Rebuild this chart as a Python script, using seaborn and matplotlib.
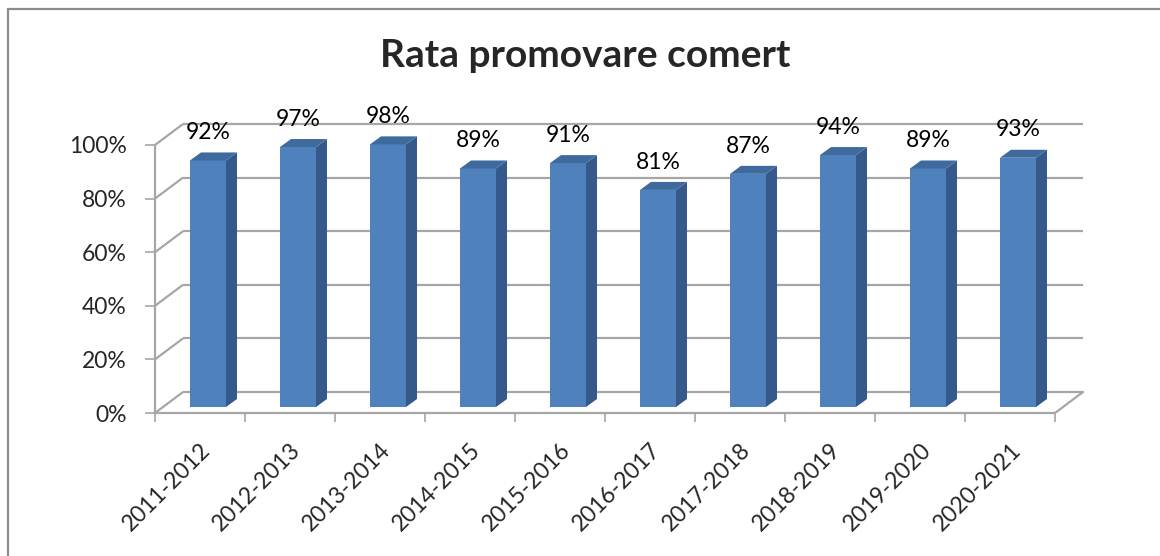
import matplotlib
matplotlib.use("Agg")
import matplotlib.pyplot as plt
import seaborn as sns
import pandas as pd
from matplotlib.patches import Polygon
from matplotlib.lines import Line2D

# ---- data ----
years = ["2011-2012", "2012-2013", "2013-2014", "2014-2015", "2015-2016",
         "2016-2017", "2017-2018", "2018-2019", "2019-2020", "2020-2021"]
rates = [92, 97, 98, 89, 91, 81, 87, 94, 89, 93]
yticks = [0, 20, 40, 60, 80, 100]
ytick_labels = ["0%", "20%", "40%", "60%", "80%", "100%"]
title = "Rata promovare comert"

W, H = 1160, 556
PX = 2.68          # pixels per percentage unit
CAT = 90.0         # pixels per category

sns.set_style("white")
plt.rcParams["font.family"] = ["Lato", "DejaVu Sans"]

fig = plt.figure(figsize=(W / 100, H / 100), dpi=100)
ax = fig.add_axes([155 / W, (H - 413) / H, 930 / W, 313 / H])
n = len(years)

DX, DY = 28 / CAT, 21 / PX           # wall depth
BX, BY = 8 / CAT, 6 / PX             # bar front offset into depth
SX, SY = 11 / CAT, 8 / PX            # bar depth
grid_c = "#a6a6a6"
FS = 16.5

df = pd.DataFrame({"year": years, "rate": rates})
sns.barplot(data=df, x="year", y="rate", color="#4f81bd", saturation=1,
            width=0.4, ax=ax, zorder=3)
ax.set_xlim(-0.5, -0.5 + 930 / CAT)
ax.set_ylim(0, 313 / PX)

front_c, side_c, top_c = "#4f81bd", "#34598a", "#3f6a9e"
for p, v in zip(ax.patches, rates):
    p.set_x(p.get_x() + BX)
    p.set_y(BY)
    p.set_height(v)
    p.set_edgecolor("none")
    x1 = p.get_x()
    x2 = x1 + p.get_width()
    b, t = BY, BY + v
    ax.add_patch(Polygon([(x2, b), (x2, t), (x2 + SX, t + SY), (x2 + SX, b + SY)],
                         closed=True, facecolor=side_c, edgecolor="none", zorder=2.9))
    ax.add_patch(Polygon([(x1, t), (x2, t), (x2 + SX, t + SY), (x1 + SX, t + SY)],
                         closed=True, facecolor=top_c, edgecolor="none", zorder=3.1))
    ax.text(x1 + p.get_width() / 2, v + 12.6, f"{v}%", ha="center", va="center",
            fontsize=FS, color="black", zorder=5)

# back wall gridlines & left wall diagonals
for v in yticks:
    ax.plot([-0.5, -0.5 + DX], [v, v + DY], color=grid_c, lw=1.6, zorder=1,
            solid_capstyle="butt")
    ax.plot([-0.5 + DX, n - 0.5 + DX], [v + DY, v + DY], color=grid_c, lw=1.6,
            zorder=1, solid_capstyle="butt")
# floor right edge
ax.plot([n - 0.5, n - 0.5 + DX], [0, DY], color=grid_c, lw=1.6, zorder=1)

# spines
for s in ["top", "right"]:
    ax.spines[s].set_visible(False)
ax.spines["left"].set_bounds(0, 100)
ax.spines["bottom"].set_bounds(-0.5, n - 0.5)
for s in ["left", "bottom"]:
    ax.spines[s].set_color(grid_c)
    ax.spines[s].set_linewidth(1.6)
    ax.spines[s].set_zorder(1.5)

ax.set_yticks(yticks)
ax.set_yticklabels(ytick_labels)
ax.tick_params(axis="y", direction="out", length=7.2, width=1.2, color=grid_c,
               pad=13, labelsize=FS, left=True)
ax.set_xticks(range(n))
ax.set_xticklabels(years, rotation=45, ha="right", va="top", rotation_mode="anchor")
ax.tick_params(axis="x", which="major", length=0, pad=19, labelsize=FS)
ax.set_xticks([i - 0.5 for i in range(n + 1)], minor=True)
ax.tick_params(axis="x", which="minor", direction="out", length=6.5, width=1.2,
               color=grid_c, bottom=True)
ax.set_xlabel("")
ax.set_ylabel("")

fig.text(585 / W, 1 - 67 / H, title, ha="center", va="baseline",
         fontsize=28, fontweight="bold")

# outer chart border (top and left visible)
fig.add_artist(Line2D([8 / W, 1.0], [1 - 9 / H, 1 - 9 / H], transform=fig.transFigure,
                      color="#8c8c8c", lw=1.6))
fig.add_artist(Line2D([8 / W, 8 / W], [1 - 9 / H, 0], transform=fig.transFigure,
                      color="#8c8c8c", lw=1.6))

fig.savefig("out.png", dpi=100, facecolor="white")
